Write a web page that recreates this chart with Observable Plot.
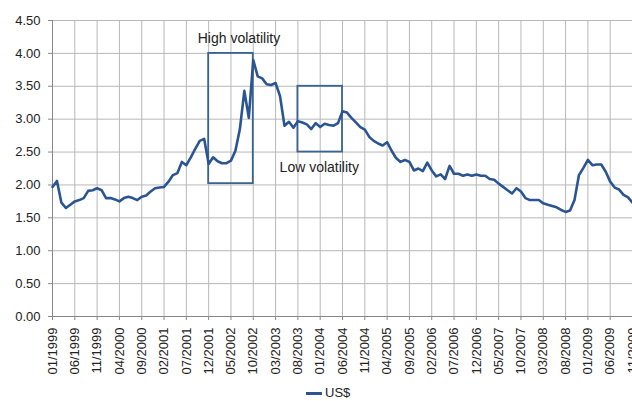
<!DOCTYPE html>
<html><head><meta charset="utf-8">
<script src="https://cdn.jsdelivr.net/npm/d3@7"></script>
<script src="https://cdn.jsdelivr.net/npm/@observablehq/plot@0.6"></script>
<style>
body{margin:0;background:#fff;font-family:"Liberation Sans",Arial,sans-serif;}
#legend{height:16px;line-height:16px;font-size:13px;color:#222;display:flex;align-items:center;margin-left:306px;}
#legend .sw{display:inline-block;width:16px;height:0;border-top:3px solid #2b5592;margin-right:3px;}
</style></head><body>
<div id="chart"></div>
<div id="legend"><span class="sw"></span><span>US$</span></div>
<script>
// Monthly series, 01/1999 .. 11/2009
const startYear = 1999;
const seriesName = "US$";
const values = [
  1.97, 2.06, 1.73, 1.65, 1.70, 1.75, 1.77, 1.80, 1.91, 1.92,
  1.95, 1.92, 1.80, 1.80, 1.78, 1.75, 1.80, 1.82, 1.80, 1.77,
  1.82, 1.84, 1.90, 1.95, 1.96, 1.97, 2.05, 2.15, 2.18, 2.35,
  2.30, 2.42, 2.55, 2.67, 2.70, 2.32, 2.42, 2.36, 2.33, 2.33,
  2.37, 2.52, 2.85, 3.43, 3.02, 3.90, 3.65, 3.62, 3.53, 3.52,
  3.55, 3.35, 2.90, 2.96, 2.87, 2.97, 2.95, 2.92, 2.85, 2.94,
  2.88, 2.93, 2.91, 2.90, 2.94, 3.12, 3.10, 3.02, 2.95, 2.88,
  2.84, 2.73, 2.67, 2.63, 2.60, 2.65, 2.52, 2.41, 2.35, 2.38,
  2.35, 2.22, 2.25, 2.21, 2.34, 2.22, 2.13, 2.16, 2.09, 2.29,
  2.17, 2.17, 2.14, 2.16, 2.14, 2.16, 2.14, 2.14, 2.09, 2.08,
  2.02, 1.97, 1.92, 1.87, 1.95, 1.90, 1.80, 1.77, 1.77, 1.77,
  1.72, 1.70, 1.68, 1.66, 1.62, 1.59, 1.61, 1.77, 2.15, 2.26,
  2.38, 2.30, 2.31, 2.31, 2.20, 2.05, 1.96, 1.93, 1.85, 1.81, 1.73
];
const tickLabels = ["01/1999","06/1999","11/1999","04/2000","09/2000","02/2001","07/2001","12/2001",
  "05/2002","10/2002","03/2003","08/2003","01/2004","06/2004","11/2004","04/2005","09/2005",
  "02/2006","07/2006","12/2006","05/2007","10/2007","03/2008","08/2008","01/2009","06/2009","11/2009"];
const yTicks = [0, 0.5, 1, 1.5, 2, 2.5, 3, 3.5, 4, 4.5];
// Annotation boxes (month labels and value bounds)
const boxLabels = ["High volatility", "Low volatility"];
const boxFrom = ["12/2001", "08/2003"];
const boxTo = ["10/2002", "06/2004"];
const boxLow = [2.02, 2.5];
const boxHigh = [4.0, 3.5];
const labelMonth = ["07/2002", "01/2004"];
const labelValue = [4.23, 2.26];

const monthLabel = i => String((i % 12) + 1).padStart(2, "0") + "/" + (startYear + Math.floor(i / 12));
const monthIndex = lab => { const [m, y] = lab.split("/").map(Number); return (y - startYear) * 12 + (m - 1); };

const data = values.map((v, i) => ({i, v}));
const tickIdx = tickLabels.map(monthIndex);
const boxes = boxLabels.map((label, k) => ({
  label, x1: monthIndex(boxFrom[k]), x2: monthIndex(boxTo[k]), y1: boxLow[k], y2: boxHigh[k],
  tx: monthIndex(labelMonth[k]) - 0.2, ty: labelValue[k]
}));

const grid = "#b8b8b8";
const chart = Plot.plot({
  width: 632, height: 385,
  marginTop: 20, marginBottom: 69, marginLeft: 52, marginRight: 0,
  style: {fontFamily: "'Liberation Sans', Arial, sans-serif", fontSize: "13px", color: "#222", background: "#fff", overflow: "visible"},
  x: {type: "linear", domain: [0, values.length - 1]},
  y: {domain: [0, 4.5]},
  marks: [
    Plot.gridY(yTicks, {stroke: grid, strokeOpacity: 1}),
    Plot.gridX(tickIdx, {stroke: grid, strokeOpacity: 1}),
    Plot.axisY(yTicks, {tickFormat: d => d.toFixed(2), tickSize: 4, tickPadding: 8, stroke: "#888", label: null, fontSize: 13}),
    Plot.axisX(tickIdx, {tickFormat: i => monthLabel(i), tickRotate: -90, tickSize: 4, tickPadding: 7, stroke: "#888", label: null, fontSize: 13}),
    Plot.ruleY([0], {stroke: "#888"}),
    Plot.ruleX([0], {stroke: "#888"}),
    Plot.rect(boxes, {x1: "x1", x2: "x2", y1: "y1", y2: "y2", fill: "none", stroke: "#3a6494", strokeWidth: 1.8}),
    Plot.line(data, {x: "i", y: "v", stroke: "#2b5592", strokeWidth: 2.6}),
    Plot.text(boxes, {x: "tx", y: "ty", text: "label", fontSize: 14, fill: "#222", textAnchor: "middle"})
  ]
});
document.getElementById("chart").append(chart);
</script>
</body></html>
